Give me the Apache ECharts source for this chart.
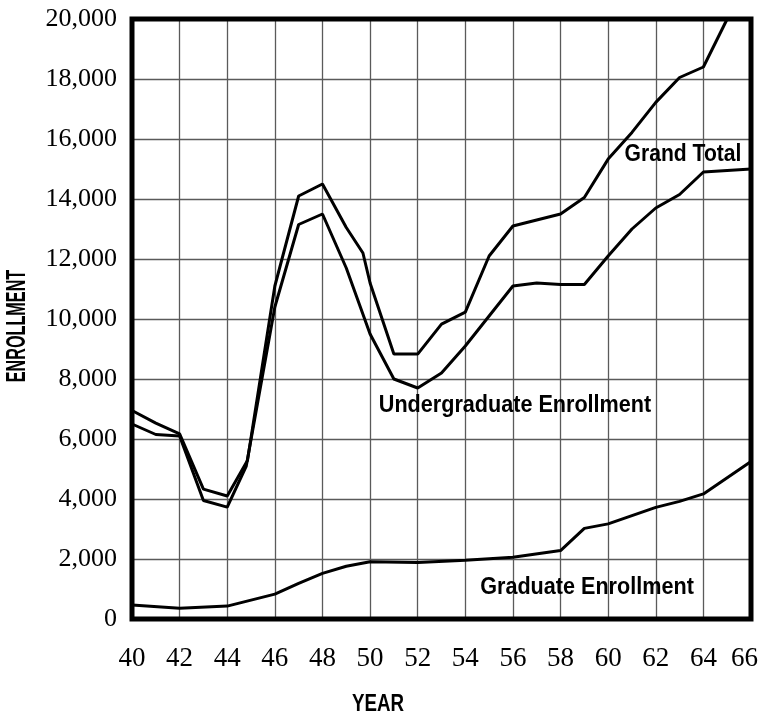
<!DOCTYPE html>
<html>
<head>
<meta charset="utf-8">
<script src="https://cdn.jsdelivr.net/npm/echarts@6/dist/echarts.min.js"></script>
<style>
html,body{margin:0;padding:0;background:#fff;}
#chart{width:760px;height:717px;}
</style>
</head>
<body>
<div id="chart"></div>
<script>
// ---- data ----
const gtYears  = [40,41,42,43,44,44.85,46,47,48,49,49.7,50,51,52,53,54,55,56,57,58,59,60,61,62,63,64,65];
const gtValues = [6950,6530,6170,4330,4100,5280,11100,14100,14500,13050,12200,11200,8830,8830,9830,10230,12100,13100,13300,13500,14050,15330,16220,17220,18050,18400,20000];

const ugYears  = [40,41,42,43,44,44.8,46,47,48,49,50,51,52,53,54,55,56,57,58,59,60,61,62,63,64,66];
const ugValues = [6500,6150,6100,3950,3730,5100,10400,13150,13500,11700,9500,8000,7700,8200,9100,10100,11100,11200,11150,11150,12100,13000,13700,14150,14900,15000];

const grYears  = [40,42,44,46,47,48,49,50,52,54,56,58,59,60,62,63,64,66];
const grValues = [470,360,430,830,1190,1520,1760,1910,1880,1960,2060,2280,3020,3170,3720,3920,4170,5250];

const yTickStep = 2000, yMax = 20000;
const xMin = 40, xMax = 66, xStep = 2;

const labels = [
  {text:'Grand Total', x:683, y:154, sx:0.88, rot:0, size:24},
  {text:'Undergraduate Enrollment', x:515, y:405, sx:0.9, rot:0, size:24},
  {text:'Graduate Enrollment', x:587, y:587, sx:0.9, rot:0, size:24},
  {text:'YEAR', x:378, y:704, sx:0.78, rot:0, size:24},
  {text:'ENROLLMENT', x:18, y:326, sx:0.6, rot:Math.PI/2, size:27}
];

const pairs = (xs, ys) => xs.map((x,i)=>[x, ys[i]]);
const boldFont = '"Liberation Sans",Arial,sans-serif';
const serif = '"Liberation Serif","Times New Roman",serif';

const chart = echarts.init(document.getElementById('chart'), null, {renderer:'canvas'});
const lineStyle = {color:'#000', width:3};
const mkSeries = (name, xs, ys) => ({
  name, type:'line', data:pairs(xs, ys), showSymbol:false, symbol:'none',
  lineStyle, clip:true, z:5, animation:false
});

chart.setOption({
  animation:false,
  backgroundColor:'#fff',
  grid:{left:132, right:9, top:19, bottom:98, show:true, borderColor:'#000', borderWidth:5, z:10,
        containLabel:false, outerBoundsMode:'none'},
  xAxis:{
    type:'value', min:xMin, max:xMax, interval:xStep,
    axisLine:{show:false}, axisTick:{show:false},
    splitLine:{show:true, lineStyle:{color:'#5a5a5a', width:1.3}},
    axisLabel:{color:'#000', fontFamily:serif, fontSize:27, margin:26,
      formatter:v=> v===xMax ? '{r|'+v+'}' : String(v),
      rich:{r:{fontFamily:serif, fontSize:27, color:'#000', padding:[0,13,0,0]}}}
  },
  yAxis:{
    type:'value', min:0, max:yMax, interval:yTickStep,
    axisLine:{show:false}, axisTick:{show:false},
    splitLine:{show:true, lineStyle:{color:'#5a5a5a', width:1.3}},
    axisLabel:{color:'#000', fontFamily:serif, fontSize:26, margin:15,
      formatter:v=>v.toLocaleString('en-US')}
  },
  series:[
    mkSeries('Grand Total', gtYears, gtValues),
    mkSeries('Undergraduate Enrollment', ugYears, ugValues),
    mkSeries('Graduate Enrollment', grYears, grValues)
  ],
  graphic: labels.map(l=>({
    type:'text', x:l.x, y:l.y, scaleX:l.sx, scaleY:1,
    rotation:l.rot, z:20,
    style:{text:l.text, fill:'#000', font:'bold ' + l.size + 'px ' + boldFont, align:'center', verticalAlign:'middle'}
  }))
});
</script>
</body>
</html>
